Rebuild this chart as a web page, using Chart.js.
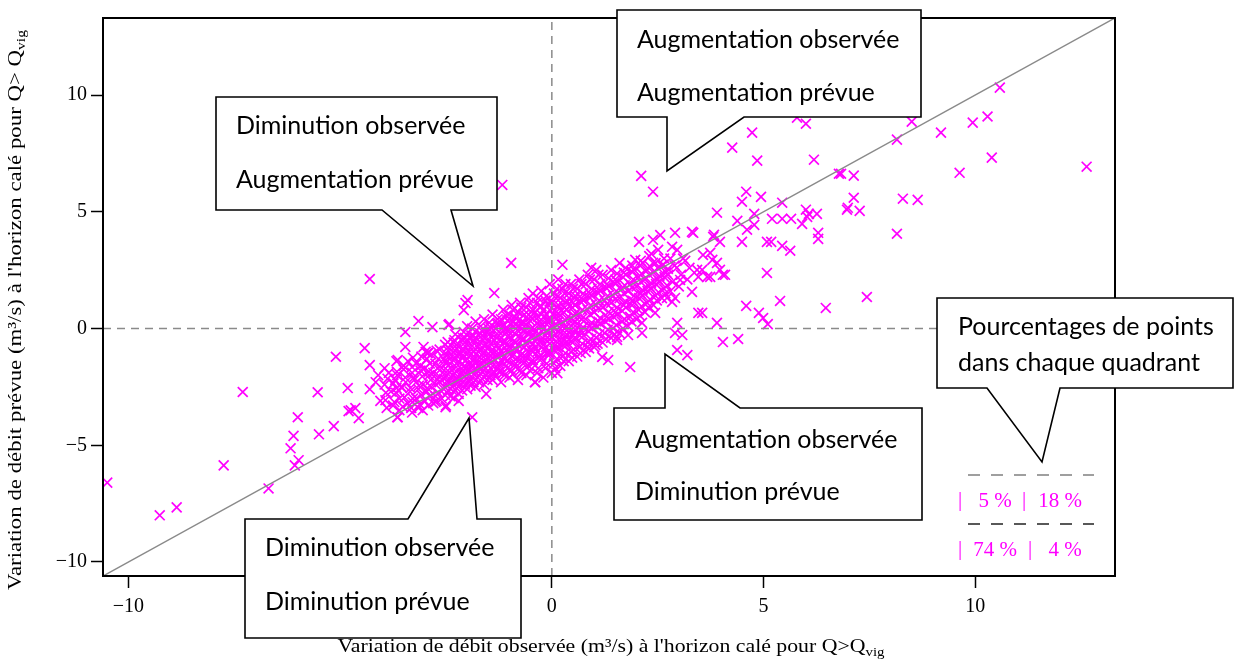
<!DOCTYPE html>
<html>
<head>
<meta charset="utf-8">
<script src="https://cdn.jsdelivr.net/npm/chart.js@4.4.1/dist/chart.umd.min.js"></script>
<style>
  html, body { margin: 0; padding: 0; background: #fff; }
  #wrap { width: 1238px; height: 661px; position: relative; }
</style>
</head>
<body>
<div id="wrap"><canvas id="chart"></canvas></div>
<script>
// same limits on both axes, so the 1:1 line runs corner to corner
const axisMin = -10.6;
const axisMax = 13.3;
const xTicks = [-10, -5, 0, 5, 10];
const yTicks = [-10, -5, 0, 5, 10];

const xTitle = "Variation de débit observée (m³/s) à l'horizon calé pour Q>Q";
const yTitle = "Variation de débit prévue (m³/s) à l'horizon calé pour Q> Q";
const titleSub = 'vig';

// quadrant shares: top-left, top-right, bottom-left, bottom-right
const quadrantPct = ['5 %', '18 %', '74 %', '4 %'];

const outlierPoints = [
  [-10.5,-6.6],[-9.26,-8.0],[-8.86,-7.66],[-7.75,-5.86],[-6.69,-6.85],[-7.3,-2.72],[-6.0,-3.8],[-6.1,-4.6],
  [-6.17,-5.13],[-6.07,-5.86],[-5.98,-5.64],[-5.5,-4.53],[-5.53,-2.73],[-5.1,-1.21],[-5.15,-4.18],[-4.82,-2.55],
  [-4.8,-3.54],[-4.64,-3.41],[-4.56,-3.84],[-4.42,-0.84],[-4.3,-1.57],[-4.3,-2.6],[-4.16,-2.3],[-3.67,-1.4],
  [-3.65,-3.8],[-3.46,-0.15],[-3.46,-0.79],[-3.15,0.32],[-3.03,-0.79],[-2.98,-1.0],[-2.82,0.06],[-2.44,0.15],
  [-2.46,-0.58],[-2.08,0.79],[-2.04,1.09],[-1.88,-3.8],[-3.93,-3.07],[-3.67,-2.55],[-3.29,-3.15],[-2.51,-3.37],
  [-2.75,-3.15],[-2.32,-2.98],[-2.23,-2.34],[-4.3,2.12],[-0.96,2.81],[-1.99,1.22],[-1.36,1.52],[-2.42,0.19],
  [-2.94,-1.05],[-3.64,-1.35],[-4.75,-3.5],[-3.64,-3.8],[-0.39,-2.3],[-1.17,6.15],
  [3.9,4.96],[0.25,2.73],[0.93,2.6],[2.06,3.71],[2.39,3.8],[2.51,3.37],[2.91,4.1],[3.34,4.1],[3.81,3.93],
  [3.97,3.71],[2.84,3.5],[2.96,3.37],[3.57,3.15],[3.79,2.94],[3.9,2.81],[3.43,2.51],[3.67,2.21],[4.04,2.3],
  [3.46,2.21],[1.97,2.94],[2.39,2.81],[2.63,2.73],[3.03,2.08],[3.31,1.57],[2.72,1.31],[2.84,1.14],[2.91,1.31],
  [3.46,0.67],[3.9,0.24],[2.96,0.24],[2.91,-0.19],[3.08,-0.28],[4.04,-0.58],[2.96,-0.92],[3.2,-1.14],
  [2.13,0.24],[2.13,-0.19],[1.8,-0.28],[2.44,0.67],[1.85,-1.65],[1.33,-1.35],[1.19,-1.22],[1.54,-0.36],
  [1.54,-0.49],[1.03,-0.71],[0.84,-0.79],[0.13,-1.91],
  [6.0,8.77],[4.73,8.39],[4.26,7.75],[4.85,7.19],[6.19,7.23],[6.83,6.63],[6.78,6.63],[7.13,6.55],[8.15,8.09],
  [8.5,8.86],[9.19,8.39],[7.13,5.6],[6.99,5.17],[6.97,5.09],[7.27,5.04],[8.29,5.56],[8.64,5.51],[8.15,4.06],
  [4.59,5.86],[4.49,5.43],[4.94,5.64],[5.44,5.39],[4.78,4.91],[4.38,4.61],[4.78,4.44],[4.61,4.23],[5.2,4.7],
  [5.44,4.7],[5.65,4.7],[5.91,4.48],[6.0,5.09],[6.07,4.91],[6.26,4.91],[6.03,4.78],[3.83,4.01],[4.49,3.71],
  [5.08,3.71],[5.18,3.71],[5.44,3.54],[5.63,3.33],[6.29,4.1],[6.29,3.84],[5.08,2.38],[7.44,1.35],[6.47,0.88],
  [5.39,1.18],[4.59,0.97],[4.89,0.67],[4.99,0.45],[5.1,0.19],[4.4,-0.45],[3.74,3.24],[3.97,2.51],[4.09,2.3],
  [3.55,2.51],[3.74,2.21],[3.55,0.67],[2.11,6.54],[2.39,5.86],[2.56,4.0],[3.31,4.14],[5.79,9.03],
  [10.58,10.32],[10.29,9.08],[9.94,8.82],[10.39,7.32],[9.63,6.67],[12.63,6.93]
];

// the dense band around the origin
const clusterPoints = [
  [-4.05,-3.1],[-3.95,-2.4],[-4.1,-2.0],[-3.9,-3.4],
  [-3.8,-2.7],[-3.75,-3.3],[-3.85,-1.9],[-3.7,-2.2],
  [-3.6,-3.0],[-3.55,-2.5],[-3.65,-2.0],[-3.5,-1.6],[-3.6,-3.5],
  [-3.4,-3.2],[-3.35,-2.7],[-3.45,-2.3],[-3.3,-1.9],[-3.4,-1.4],[-3.3,-3.6],
  [-3.2,-3.0],[-3.15,-2.6],[-3.25,-2.2],[-3.1,-1.8],[-3.2,-1.5],[-3.15,-3.4],
  [-3.0,-3.1],[-2.95,-2.7],[-3.05,-2.4],[-2.9,-2.0],[-3.0,-1.7],[-2.95,-1.3],[-3.05,-3.5],
  [-2.8,-3.2],[-2.75,-2.9],[-2.85,-2.5],[-2.7,-2.2],[-2.8,-1.9],[-2.75,-1.5],[-2.85,-1.1],
  [-2.6,-3.0],[-2.55,-2.6],[-2.65,-2.3],[-2.5,-2.0],[-2.6,-1.7],[-2.55,-1.3],[-2.65,-0.9],[-2.5,-3.3],
  [-2.4,-2.9],[-2.35,-2.5],[-2.45,-2.2],[-2.3,-1.9],[-2.4,-1.5],[-2.35,-1.2],[-2.45,-0.8],[-2.3,-0.5],
  [-2.2,-2.8],[-2.15,-2.4],[-2.25,-2.1],[-2.1,-1.8],[-2.2,-1.4],[-2.15,-1.1],[-2.25,-0.7],[-2.1,-0.4],[-2.2,-3.1],
  [-2.0,-2.6],[-1.95,-2.3],[-2.05,-1.9],[-1.9,-1.6],[-2.0,-1.3],[-1.95,-1.0],[-2.05,-0.6],[-1.9,-0.3],[-2.0,0.1],
  [-1.8,-2.5],[-1.75,-2.1],[-1.85,-1.8],[-1.7,-1.5],[-1.8,-1.1],[-1.75,-0.8],[-1.85,-0.5],[-1.7,-0.2],[-1.8,0.3],
  [-1.6,-2.4],[-1.55,-2.0],[-1.65,-1.7],[-1.5,-1.3],[-1.6,-1.0],[-1.55,-0.7],[-1.65,-0.3],[-1.5,0.0],[-1.6,0.4],[-1.55,-2.8],
  [-1.4,-2.2],[-1.35,-1.9],[-1.45,-1.5],[-1.3,-1.2],[-1.4,-0.9],[-1.35,-0.5],[-1.45,-0.2],[-1.3,0.2],[-1.4,0.6],
  [-1.2,-2.3],[-1.15,-1.9],[-1.25,-1.6],[-1.1,-1.3],[-1.2,-1.0],[-1.15,-0.6],[-1.25,-0.3],[-1.1,0.0],[-1.2,0.4],[-1.15,0.8],
  [-1.0,-2.1],[-0.95,-1.8],[-1.05,-1.4],[-0.9,-1.1],[-1.0,-0.8],[-0.95,-0.4],[-1.05,-0.1],[-0.9,0.3],[-1.0,0.6],[-0.95,1.0],
  [-0.8,-2.2],[-0.75,-1.8],[-0.85,-1.5],[-0.7,-1.1],[-0.8,-0.7],[-0.75,-0.4],[-0.85,0.0],[-0.7,0.3],[-0.8,0.7],[-0.75,1.1],
  [-0.6,-2.0],[-0.55,-1.6],[-0.65,-1.3],[-0.5,-0.9],[-0.6,-0.6],[-0.55,-0.2],[-0.65,0.1],[-0.5,0.5],[-0.6,0.9],[-0.55,1.3],
  [-0.4,-2.3],[-0.35,-1.9],[-0.45,-1.5],[-0.3,-1.2],[-0.4,-0.8],[-0.35,-0.4],[-0.45,-0.1],[-0.3,0.3],[-0.4,0.7],[-0.35,1.1],[-0.45,1.5],
  [-0.2,-2.1],[-0.15,-1.7],[-0.25,-1.3],[-0.1,-1.0],[-0.2,-0.6],[-0.15,-0.3],[-0.25,0.1],[-0.1,0.4],[-0.2,0.8],[-0.15,1.2],[-0.25,1.6],
  [0.0,-1.9],[0.05,-1.5],[-0.05,-1.1],[0.1,-0.8],[0.0,-0.4],[0.05,0.0],[-0.05,0.3],[0.1,0.7],[0.0,1.1],[0.05,1.5],[-0.05,1.9],
  [0.2,-1.6],[0.25,-1.2],[0.15,-0.9],[0.3,-0.5],[0.2,-0.2],[0.25,0.2],[0.15,0.5],[0.3,0.9],[0.2,1.3],[0.25,1.7],[0.15,2.1],
  [0.4,-1.4],[0.45,-1.0],[0.35,-0.7],[0.5,-0.3],[0.4,0.0],[0.45,0.4],[0.35,0.8],[0.5,1.1],[0.4,1.5],[0.45,1.9],
  [0.6,-1.2],[0.65,-0.8],[0.55,-0.5],[0.7,-0.1],[0.6,0.2],[0.65,0.6],[0.55,1.0],[0.7,1.3],[0.6,1.7],[0.65,2.1],
  [0.8,-1.0],[0.85,-0.6],[0.75,-0.3],[0.9,0.1],[0.8,0.4],[0.85,0.8],[0.75,1.2],[0.9,1.5],[0.8,1.9],[0.85,2.3],
  [1.0,-0.8],[1.05,-0.4],[0.95,0.0],[1.1,0.3],[1.0,0.7],[1.05,1.0],[0.95,1.4],[1.1,1.7],[1.0,2.1],[1.05,2.5],
  [1.2,-0.6],[1.25,-0.2],[1.15,0.2],[1.3,0.5],[1.2,0.9],[1.25,1.2],[1.15,1.6],[1.3,1.9],[1.2,2.3],
  [1.4,-0.4],[1.45,0.0],[1.35,0.4],[1.5,0.7],[1.4,1.1],[1.45,1.4],[1.35,1.8],[1.5,2.1],[1.4,2.5],
  [1.6,-0.2],[1.65,0.3],[1.55,0.6],[1.7,1.0],[1.6,1.3],[1.65,1.7],[1.55,2.0],[1.7,2.4],[1.6,2.8],
  [1.8,0.1],[1.85,0.5],[1.75,0.9],[1.9,1.2],[1.8,1.6],[1.85,1.9],[1.75,2.3],[1.9,2.7],
  [2.0,0.4],[2.05,0.8],[1.95,1.1],[2.1,1.5],[2.0,1.8],[2.05,2.2],[1.95,2.5],[2.1,2.9],
  [2.2,0.7],[2.25,1.1],[2.15,1.4],[2.3,1.8],[2.2,2.1],[2.25,2.5],[2.15,2.8],[2.3,3.1],
  [2.4,1.0],[2.45,1.4],[2.35,1.7],[2.5,2.1],[2.4,2.4],[2.45,2.8],[2.35,3.2],
  [2.6,1.3],[2.65,1.7],[2.55,2.0],[2.7,2.4],[2.6,2.7],[2.65,3.0],
  [2.8,1.6],[2.85,2.0],[2.75,2.3],[2.9,2.7],[2.8,3.0],
  [3.0,1.8],[3.05,2.3],[2.95,2.6],[3.1,3.0],
  [3.2,2.1],[3.25,2.6],[3.15,2.9]
];

// the core of the band is packed solid, these fill the gaps
const corePoints = [
  [-3.92,-2.75],[-3.88,-2.15],[-3.95,-1.7],
  [-3.72,-3.15],[-3.68,-2.75],[-3.74,-2.35],[-3.66,-1.85],
  [-3.52,-3.35],[-3.48,-2.95],[-3.54,-2.55],[-3.46,-2.1],[-3.5,-1.75],
  [-3.32,-3.4],[-3.28,-3.0],[-3.34,-2.55],[-3.26,-2.1],[-3.3,-1.65],[-3.28,-1.25],
  [-3.12,-3.25],[-3.08,-2.85],[-3.14,-2.45],[-3.06,-2.05],[-3.1,-1.6],[-3.08,-1.2],
  [-2.92,-3.3],[-2.88,-2.9],[-2.94,-2.55],[-2.86,-2.2],[-2.9,-1.85],[-2.88,-1.5],[-2.92,-1.05],
  [-2.72,-3.1],[-2.68,-2.75],[-2.74,-2.4],[-2.66,-2.05],[-2.7,-1.7],[-2.68,-1.3],[-2.72,-0.95],
  [-2.52,-2.85],[-2.48,-2.45],[-2.54,-2.15],[-2.46,-1.8],[-2.5,-1.45],[-2.48,-1.1],[-2.52,-0.7],
  [-2.32,-2.7],[-2.28,-2.35],[-2.34,-2.0],[-2.26,-1.65],[-2.3,-1.3],[-2.28,-0.95],[-2.32,-0.6],[-2.28,-0.25],
  [-2.12,-2.65],[-2.08,-2.25],[-2.14,-1.95],[-2.06,-1.6],[-2.1,-1.25],[-2.08,-0.9],[-2.12,-0.5],[-2.08,-0.15],
  [-1.92,-2.45],[-1.88,-2.1],[-1.94,-1.75],[-1.86,-1.4],[-1.9,-1.1],[-1.88,-0.75],[-1.92,-0.4],[-1.88,0.0],
  [-1.72,-2.3],[-1.68,-1.95],[-1.74,-1.6],[-1.66,-1.3],[-1.7,-0.95],[-1.68,-0.6],[-1.72,-0.3],[-1.68,0.1],
  [-1.52,-2.2],[-1.48,-1.85],[-1.54,-1.5],[-1.46,-1.15],[-1.5,-0.85],[-1.48,-0.5],[-1.52,-0.15],[-1.48,0.25],
  [-1.32,-2.05],[-1.28,-1.7],[-1.34,-1.35],[-1.26,-1.05],[-1.3,-0.7],[-1.28,-0.35],[-1.32,0.0],[-1.28,0.4],
  [-1.12,-2.0],[-1.08,-1.6],[-1.14,-1.25],[-1.06,-0.9],[-1.1,-0.55],[-1.08,-0.2],[-1.12,0.15],[-1.08,0.55],
  [-0.92,-1.95],[-0.88,-1.55],[-0.94,-1.2],[-0.86,-0.85],[-0.9,-0.55],[-0.88,-0.2],[-0.92,0.1],[-0.88,0.5],[-0.92,0.8],
  [-0.72,-1.9],[-0.68,-1.5],[-0.74,-1.15],[-0.66,-0.8],[-0.7,-0.45],[-0.68,-0.1],[-0.72,0.2],[-0.68,0.55],[-0.72,0.9],
  [-0.52,-1.8],[-0.48,-1.4],[-0.54,-1.05],[-0.46,-0.7],[-0.5,-0.35],[-0.48,0.0],[-0.52,0.35],[-0.48,0.7],[-0.52,1.1],
  [-0.32,-1.7],[-0.28,-1.35],[-0.34,-1.0],[-0.26,-0.6],[-0.3,-0.25],[-0.28,0.1],[-0.32,0.5],[-0.28,0.9],[-0.32,1.3],
  [-0.12,-1.5],[-0.08,-1.15],[-0.14,-0.8],[-0.06,-0.45],[-0.1,-0.1],[-0.08,0.25],[-0.12,0.6],[-0.08,1.0],[-0.12,1.4],
  [0.08,-1.7],[0.12,-1.3],[0.06,-0.95],[0.14,-0.6],[0.1,-0.25],[0.12,0.15],[0.08,0.5],[0.14,0.9],[0.1,1.3],[0.12,1.7],
  [0.28,-1.4],[0.32,-1.05],[0.26,-0.7],[0.34,-0.35],[0.3,0.0],[0.32,0.35],[0.28,0.7],[0.34,1.1],[0.3,1.5],[0.32,1.9],
  [0.48,-1.25],[0.52,-0.9],[0.46,-0.55],[0.54,-0.15],[0.5,0.2],[0.52,0.55],[0.48,0.9],[0.54,1.3],[0.5,1.7],
  [0.68,-1.05],[0.72,-0.65],[0.66,-0.3],[0.74,0.05],[0.7,0.4],[0.72,0.8],[0.68,1.15],[0.74,1.5],[0.7,1.9],
  [0.88,-0.85],[0.92,-0.45],[0.86,-0.1],[0.94,0.25],[0.9,0.6],[0.92,1.0],[0.88,1.35],[0.94,1.7],[0.9,2.1],
  [1.08,-0.65],[1.12,-0.25],[1.06,0.1],[1.14,0.45],[1.1,0.85],[1.12,1.2],[1.08,1.55],[1.14,1.9],[1.1,2.3],
  [1.28,-0.45],[1.32,-0.05],[1.26,0.3],[1.34,0.7],[1.3,1.05],[1.32,1.4],[1.28,1.75],[1.34,2.15],
  [1.48,-0.25],[1.52,0.15],[1.46,0.5],[1.54,0.9],[1.5,1.25],[1.52,1.6],[1.48,1.95],[1.54,2.35],
  [1.68,0.0],[1.72,0.4],[1.66,0.75],[1.74,1.15],[1.7,1.5],[1.72,1.85],[1.68,2.2],[1.74,2.6],
  [1.88,0.3],[1.92,0.7],[1.86,1.05],[1.94,1.4],[1.9,1.75],[1.92,2.1],[1.88,2.45],
  [2.08,0.55],[2.12,0.95],[2.06,1.3],[2.14,1.65],[2.1,2.0],[2.12,2.35],[2.08,2.7],
  [2.28,0.9],[2.32,1.25],[2.26,1.6],[2.34,1.95],[2.3,2.3],[2.32,2.65],
  [2.48,1.2],[2.52,1.55],[2.46,1.9],[2.54,2.25],[2.5,2.6],
  [2.68,1.5],[2.72,1.85],[2.66,2.2],[2.74,2.55]
];

// solid heart of the band
const densePoints = [
  [-2.45,-2.65],[-2.45,-2.3],[-2.45,-1.95],[-2.45,-1.6],[-2.45,-1.25],[-2.45,-0.95],
  [-2.25,-2.55],[-2.25,-2.2],[-2.25,-1.85],[-2.25,-1.5],[-2.25,-1.15],[-2.25,-0.85],
  [-2.05,-2.4],[-2.05,-2.05],[-2.05,-1.7],[-2.05,-1.4],[-2.05,-1.05],[-2.05,-0.75],[-2.05,-0.4],
  [-1.85,-2.3],[-1.85,-1.95],[-1.85,-1.6],[-1.85,-1.3],[-1.85,-0.95],[-1.85,-0.6],[-1.85,-0.3],
  [-1.65,-2.15],[-1.65,-1.85],[-1.65,-1.5],[-1.65,-1.15],[-1.65,-0.8],[-1.65,-0.45],[-1.65,-0.1],
  [-1.45,-2.0],[-1.45,-1.7],[-1.45,-1.35],[-1.45,-1.0],[-1.45,-0.65],[-1.45,-0.35],[-1.45,0.05],
  [-1.25,-1.85],[-1.25,-1.5],[-1.25,-1.2],[-1.25,-0.85],[-1.25,-0.5],[-1.25,-0.15],[-1.25,0.2],
  [-1.05,-1.7],[-1.05,-1.35],[-1.05,-1.0],[-1.05,-0.7],[-1.05,-0.35],[-1.05,0.0],[-1.05,0.35],
  [-0.85,-1.65],[-0.85,-1.3],[-0.85,-0.95],[-0.85,-0.6],[-0.85,-0.25],[-0.85,0.15],[-0.85,0.45],
  [-0.65,-1.45],[-0.65,-1.15],[-0.65,-0.8],[-0.65,-0.45],[-0.65,-0.1],[-0.65,0.25],[-0.65,0.6],
  [-0.45,-1.35],[-0.45,-1.0],[-0.45,-0.65],[-0.45,-0.3],[-0.45,0.05],[-0.45,0.4],[-0.45,0.8],
  [-0.25,-1.15],[-0.25,-0.8],[-0.25,-0.45],[-0.25,-0.1],[-0.25,0.25],[-0.25,0.6],[-0.25,0.95],
  [-0.05,-1.0],[-0.05,-0.65],[-0.05,-0.3],[-0.05,0.05],[-0.05,0.4],[-0.05,0.8],[-0.05,1.15],
  [0.15,-0.8],[0.15,-0.45],[0.15,-0.1],[0.15,0.3],[0.15,0.65],[0.15,1.0],
  [0.35,-0.6],[0.35,-0.25],[0.35,0.1],[0.35,0.45],[0.35,0.8],[0.35,1.2],
  [0.55,-0.4],[0.55,-0.05],[0.55,0.3],[0.55,0.65],[0.55,1.0],[0.55,1.4]
];

const calloutLines = [
  ['Augmentation observée', 'Augmentation prévue'],
  ['Diminution observée', 'Augmentation prévue'],
  ['Augmentation observée', 'Diminution prévue'],
  ['Diminution observée', 'Diminution prévue'],
  ['Pourcentages de points', 'dans chaque quadrant']
];

// speech-bubble outlines (pixel layout) and where each text block sits
const callouts = [
  { path: [[617,10],[921,10],[921,117],[744,117],[667,171],[667,117],[617,117]], tx: 637, ty: [40, 93] },
  { path: [[216,97],[497,97],[497,210],[451,210],[473,286],[382,210],[216,210]], tx: 236, ty: [126, 180] },
  { path: [[614,408],[665,408],[665,354],[740,408],[922,408],[922,520],[614,520]], tx: 635, ty: [440, 492] },
  { path: [[245,519],[408,519],[469,418],[477,519],[521,519],[521,638],[245,638]], tx: 265, ty: [548, 602] },
  { path: [[937,298],[1233,298],[1233,388],[1060,388],[1042,462],[987,388],[937,388]], tx: 958, ty: [327, 363] }
];

const toXY = p => ({ x: p[0], y: p[1] });
const allPoints = outlierPoints.concat(clusterPoints, corePoints, densePoints).map(toXY);

function fmtTick(v) {
  return v < 0 ? '\u2212' + Math.abs(v) : String(v);
}

function drawTitle(ctx, main, sub, cx, cy, targetW, rotate) {
  ctx.save();
  ctx.translate(cx, cy);
  if (rotate) ctx.rotate(-Math.PI / 2);
  ctx.font = '19px "Liberation Serif"';
  const wMain = ctx.measureText(main).width;
  ctx.font = '13px "Liberation Serif"';
  const wSub = ctx.measureText(sub).width;
  const total = wMain + wSub;
  ctx.scale(targetW / total, 1);
  ctx.fillStyle = '#000';
  ctx.textAlign = 'left';
  ctx.textBaseline = 'alphabetic';
  ctx.font = '19px "Liberation Serif"';
  ctx.fillText(main, -total / 2, 6);
  ctx.font = '13px "Liberation Serif"';
  ctx.fillText(sub, -total / 2 + wMain, 10);
  ctx.restore();
}

const overlayPlugin = {
  id: 'overlay',
  afterDraw(chart) {
    const ctx = chart.ctx;
    const a = chart.chartArea;

    // plot frame
    ctx.save();
    ctx.strokeStyle = '#000';
    ctx.lineWidth = 2;
    ctx.strokeRect(a.left, a.top, a.right - a.left, a.bottom - a.top);
    ctx.restore();

    drawTitle(ctx, xTitle, titleSub, 611, 646, 547, false);
    drawTitle(ctx, yTitle, titleSub, 15, 310, 560, true);

    // quadrant percentages
    ctx.save();
    ctx.lineWidth = 1.5;
    ctx.setLineDash([12, 11]);
    ctx.strokeStyle = '#808080';
    ctx.beginPath(); ctx.moveTo(968, 475); ctx.lineTo(1094, 475); ctx.stroke();
    ctx.strokeStyle = '#222';
    ctx.beginPath(); ctx.moveTo(968, 524); ctx.lineTo(1094, 524); ctx.stroke();
    ctx.setLineDash([]);
    ctx.fillStyle = '#ff00ff';
    ctx.font = '21px "Liberation Serif"';
    ctx.textBaseline = 'middle';
    ctx.textAlign = 'center';
    ctx.fillText('|', 960, 500);
    ctx.fillText(quadrantPct[0], 995, 501);
    ctx.fillText('|', 1024, 500);
    ctx.fillText(quadrantPct[1], 1060, 501);
    ctx.fillText('|', 960, 549);
    ctx.fillText(quadrantPct[2], 995, 550);
    ctx.fillText('|', 1030, 549);
    ctx.fillText(quadrantPct[3], 1065, 550);
    ctx.restore();

    // callouts
    callouts.forEach((c, i) => {
      ctx.save();
      ctx.beginPath();
      c.path.forEach((p, j) => (j ? ctx.lineTo(p[0], p[1]) : ctx.moveTo(p[0], p[1])));
      ctx.closePath();
      ctx.fillStyle = '#fff';
      ctx.fill();
      ctx.strokeStyle = '#000';
      ctx.lineWidth = 1.6;
      ctx.stroke();
      ctx.fillStyle = '#000';
      ctx.font = '25px Lato';
      ctx.textAlign = 'left';
      ctx.textBaseline = 'middle';
      calloutLines[i].forEach((t, k) => ctx.fillText(t, c.tx, c.ty[k]));
      ctx.restore();
    });
  }
};

const refLine = (data, dash) => ({
  type: 'line',
  data: data,
  borderColor: '#8a8a8a',
  borderWidth: 1.5,
  borderDash: dash,
  pointRadius: 0,
  fill: false
});

new Chart(document.getElementById('chart'), {
  type: 'scatter',
  data: {
    datasets: [
      refLine([{ x: axisMin, y: axisMin }, { x: axisMax, y: axisMax }], []),
      refLine([{ x: axisMin, y: 0 }, { x: axisMax, y: 0 }], [8, 6]),
      refLine([{ x: 0, y: axisMin }, { x: 0, y: axisMax }], [8, 6]),
      {
        type: 'scatter',
        data: allPoints,
        pointStyle: 'crossRot',
        pointRadius: 7,
        borderColor: '#ff00ff',
        backgroundColor: '#ff00ff',
        borderWidth: 1.7
      }
    ]
  },
  options: {
    responsive: true,
    maintainAspectRatio: false,
    animation: false,
    layout: { padding: { left: 0, right: 123, top: 18, bottom: 0 } },
    plugins: { legend: { display: false }, tooltip: { enabled: false } },
    scales: {
      x: {
        type: 'linear',
        min: axisMin,
        max: axisMax,
        afterBuildTicks: s => { s.ticks = xTicks.map(v => ({ value: v })); },
        afterFit: s => { s.height = 85; },
        border: { display: false },
        grid: { display: true, drawOnChartArea: false, drawTicks: true, tickLength: 12, tickColor: '#000', tickWidth: 1.5 },
        ticks: {
          color: '#000',
          padding: 7,
          maxRotation: 0,
          font: { family: '"Liberation Serif"', size: 20 },
          callback: v => fmtTick(v)
        }
      },
      y: {
        type: 'linear',
        min: axisMin,
        max: axisMax,
        afterBuildTicks: s => { s.ticks = yTicks.map(v => ({ value: v })); },
        afterFit: s => { s.width = 103; },
        border: { display: false },
        grid: { display: true, drawOnChartArea: false, drawTicks: true, tickLength: 12, tickColor: '#000', tickWidth: 1.5 },
        ticks: {
          color: '#000',
          padding: 4,
          font: { family: '"Liberation Serif"', size: 20 },
          callback: v => fmtTick(v)
        }
      }
    }
  },
  plugins: [overlayPlugin]
});
</script>
</body>
</html>
